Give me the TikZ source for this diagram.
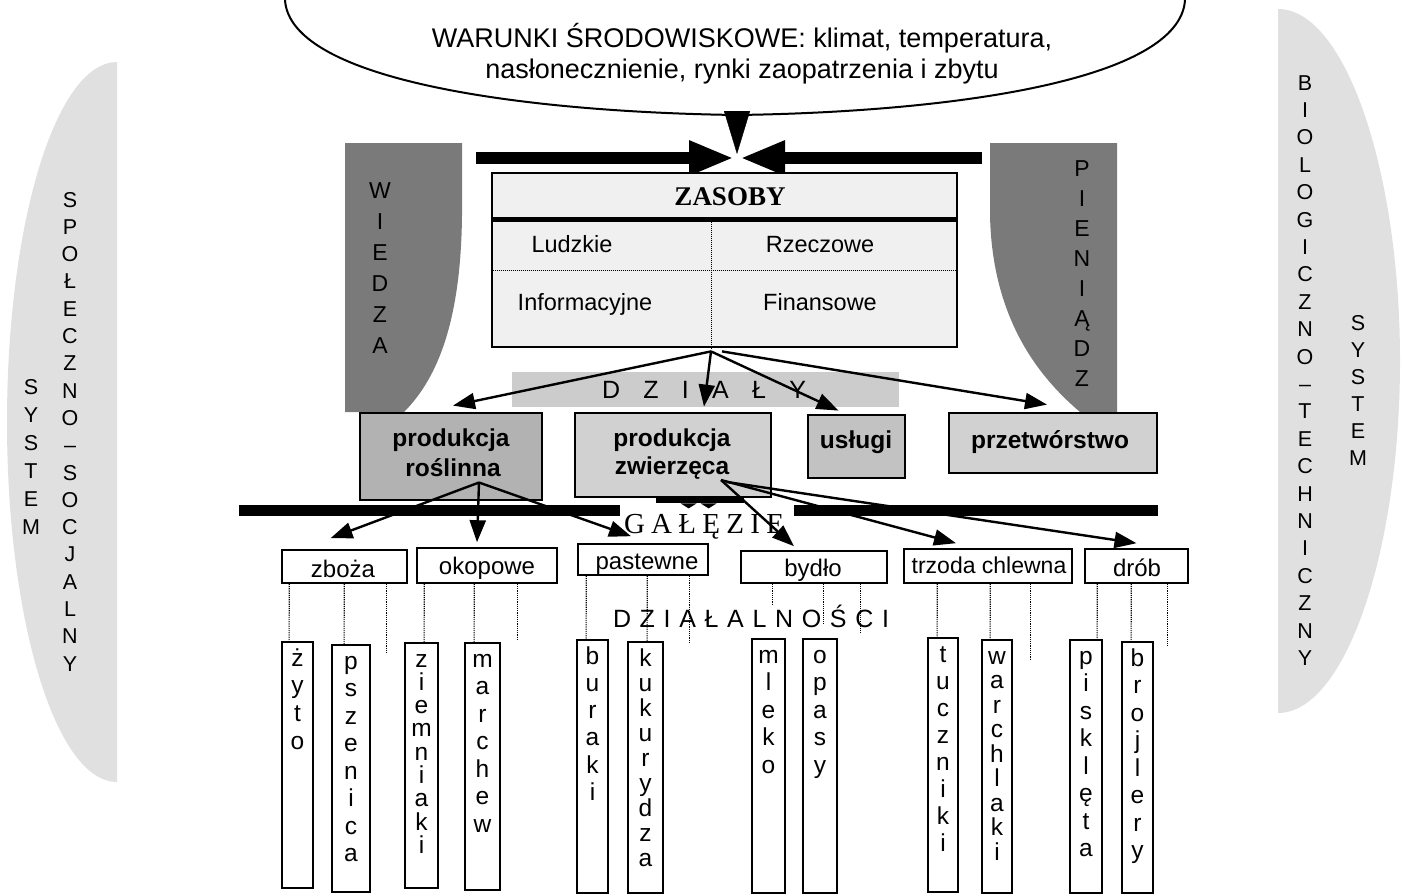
\documentclass[tikz,border=0pt]{standalone}
\usepackage{fontspec}
\setmainfont{Liberation Sans}
\newfontfamily\timesf{Liberation Serif}
\usetikzlibrary{arrows.meta,calc}
\newcommand\fsz[2]{\fontsize{#1}{#2}\selectfont}
\newcommand\vword[7]{%
  \node[vbox,minimum width={#3-#2},minimum height={#5-#4}] (#1) at ({(#2+#3)/2},{(#4+#5)/2}) {};
  \foreach \ch [count=\i from 0] in {#7}
    \node[vlet] (#1-\i) at ({(#2+#3)/2},{#4+24+#6*\i}) {\ch};
}
\begin{document}
\begin{tikzpicture}[x=1pt,y=-1pt,
  conn/.style={line width=2.4pt,-{Triangle[length=22pt,width=16pt]}},
  bigarr/.style={line width=12pt,-{Triangle[length=45pt,width=32pt]}},
  stip/.style={fill=black!12},
  curtain/.style={fill=black!52},
  rbox/.style={draw,line width=2.8pt,inner sep=0},
  gbox/.style={draw,line width=1.6pt,inner sep=0,fill=white},
  vbox/.style={draw,line width=1.8pt,inner sep=0,fill=white},
  vlet/.style={anchor=base,inner sep=0,font=\fsz{24.5}{24.5}},
  clet/.style={anchor=base,inner sep=0,font=\fsz{21.5}{21.5}},
  wlet/.style={anchor=base,inner sep=0,font=\fsz{23}{23}},
  btxt/.style={anchor=base,inner sep=0,font=\bfseries\fsz{24.5}{24.5}},
  ctxt/.style={anchor=base,inner sep=0,font=\fsz{23.5}{23.5}},
  gtxt/.style={anchor=base,inner sep=0,font=\fsz{24}{24}},
  dots/.style={densely dotted,line width=1.2pt},
]
\useasboundingbox (0,0) rectangle (1404,895);

% side stippled half-ellipses
\fill[stip] (117,62) .. controls (56,62) and (7,223) .. (7,422) .. controls (7,621) and (56,782) .. (117,782) -- cycle;
\fill[stip] (1278,9) .. controls (1345,9) and (1400,170) .. (1400,361) .. controls (1400,552) and (1345,713) .. (1278,713) -- cycle;
\foreach \ch [count=\i from 0] in {S,P,O,Ł,E,C,Z,N,O,–,S,O,C,J,A,L,N,Y}
  \node[clet] (spol-\i) at (70,{207+27.3*\i}) {\ch};
\foreach \ch [count=\i from 0] in {S,Y,S,T,E,M}
  \node[clet] (sysl-\i) at (31,{394+28*\i}) {\ch};
\foreach \ch [count=\i from 0] in {B,I,O,L,O,G,I,C,Z,N,O,–,T,E,C,H,N,I,C,Z,N,Y}
  \node[clet] (bio-\i) at (1305,{90+27.4*\i}) {\ch};
\foreach \ch [count=\i from 0] in {S,Y,S,T,E,M}
  \node[clet] (sysr-\i) at (1358,{330+27*\i}) {\ch};

% environment conditions
\draw[line width=2pt] (285,0) .. controls (290,80) and (520,112) .. (737,115) .. controls (954,112) and (1180,80) .. (1185,0);
\node[anchor=base,inner sep=0,font=\fsz{27}{27}] (war1) at (742,47.5) {WARUNKI ŚRODOWISKOWE: klimat, temperatura,};
\node[anchor=base,inner sep=0,font=\fsz{27}{27}] (war2) at (742,78) {nasłonecznienie, rynki zaopatrzenia i zbytu};
\coordinate (cbot) at (737,111);
\coordinate (meet) at (737,154);
\draw[line width=0.4pt,-{Triangle[length=43pt,width=26pt]}] (cbot) -- (meet);

% curtains
\fill[curtain] (345,143) -- (462,143) -- (462,215) .. controls (461,320) and (438,378) .. (404,412) -- (345,412) -- cycle;
\fill[curtain] (1117,143) -- (990,143) -- (990,215) .. controls (992,320) and (1040,378) .. (1080,412) -- (1117,412) -- cycle;
\foreach \ch [count=\i from 0] in {W,I,E,D,Z,A}
  \node[wlet] (wie-\i) at (380,{198+31*\i}) {\ch};
\foreach \ch [count=\i from 0] in {P,I,E,N,I,Ą,D,Z}
  \node[wlet] (pie-\i) at (1082,{176+30*\i}) {\ch};

% big arrows
\coordinate (lstart) at (476,158);
\coordinate (rstart) at (982,158);
\coordinate (meetL) at (734,158);
\coordinate (meetR) at (740,158);
\draw[bigarr] (lstart) -- (meetL);
\draw[bigarr] (rstart) -- (meetR);

% ZASOBY
\node[rbox,fill=black!6,minimum width=465,minimum height=174] (zasoby) at (724.5,260) {};
\draw[line width=5pt] ($(zasoby.north west)+(0,48)$) -- ($(zasoby.north east)+(0,48)$);
\draw[dots,line width=1pt] ($(zasoby.north west)+(0,99)$) -- ($(zasoby.north east)+(0,99)$);
\draw[dots,line width=1pt] ($(zasoby.north west)+(221,50)$) -- ($(zasoby.south west)+(221,0)$);
\node[anchor=base,inner sep=0,font=\timesf\bfseries\fsz{27}{27}] (zas-t) at (730,205) {ZASOBY};
\node[ctxt] (lud) at (572,252) {Ludzkie};
\node[ctxt] (rze) at (820,252) {Rzeczowe};
\node[ctxt] (inf) at (585,310) {Informacyjne};
\node[ctxt] (fin) at (820,310) {Finansowe};

% DZIAŁY band
\node[fill=black!20,minimum width=387,minimum height=35,inner sep=0] (dzialy) at (705.5,389.5) {};
\node[anchor=base,inner sep=0,font=\fsz{25}{25}] (dzialy-t) at (704,398) {\makebox[204pt][s]{D Z I A Ł Y}};

% departments
\node[rbox,fill=black!30,minimum width=182,minimum height=87] (pr) at (451,456.5) {};
\node[rbox,fill=black!18,minimum width=196,minimum height=84] (pz) at (673,455) {};
\node[rbox,fill=black!24,minimum width=97,minimum height=63] (usl) at (856.5,446.5) {};
\node[rbox,fill=black!18,minimum width=208,minimum height=60] (prz) at (1053,443) {};
\node[btxt] (pr-1) at (451,446) {produkcja};
\node[btxt] (pr-2) at (453,476) {roślinna};
\node[btxt] (pz-1) at (672,446) {produkcja};
\node[btxt] (pz-2) at (672,474) {zwierzęca};
\node[btxt] (usl-t) at (856,448) {usługi};
\node[btxt] (prz-t) at (1050,448) {przetwórstwo};

\coordinate (zsrc) at ($(zasoby.south)+(-13.5,3)$);
\coordinate (zsrc2) at ($(zasoby.south)+(-2.5,3)$);
\draw[conn] (zsrc) -- ($(pr.north)+(2,-6)$);
\draw[conn] (zsrc) -- ($(pz.north)+(31,-5)$);
\draw[conn] (zsrc) -- ($(usl.north)+(-18,-3)$);
\draw[conn] (zsrc2) -- ($(prz.north)+(-6,-7)$);

% branch bar
\coordinate (barL1) at (239,510);
\coordinate (barL2) at (620,510);
\coordinate (barR1) at (794,510);
\coordinate (barR2) at (1158,510);
\draw[line width=11pt] (barL1) -- (barL2);
\draw[line width=11pt] (barR1) -- (barR2);
\fill ($(pz.south west)+(82,0)$) rectangle ($(pz.south west)+(170,5)$);
\fill ($(pz.south west)+(107,5)$) -- ($(pz.south west)+(123,5)$) -- ($(pz.south west)+(115,10)$) -- cycle;
\fill ($(pz.south west)+(127,5)$) -- ($(pz.south west)+(143,5)$) -- ($(pz.south west)+(135,10)$) -- cycle;
\node[anchor=base,inner sep=0,font=\timesf\fsz{29}{29}] (gal) at (704,533) {\makebox[160pt][s]{G A Ł Ę Z I E}};

% branches
\node[gbox,minimum width=125,minimum height=33] (zboza) at (344.5,566.5) {};
\node[gbox,minimum width=140,minimum height=35] (okop) at (487,565.5) {};
\node[gbox,minimum width=130,minimum height=31] (past) at (643,559.5) {};
\node[gbox,minimum width=146,minimum height=32] (bydlo) at (814,567) {};
\node[gbox,minimum width=168,minimum height=34] (trzoda) at (988,566) {};
\node[gbox,minimum width=103,minimum height=34] (drob) at (1136.5,566) {};
\node[gtxt] (zboza-t) at (343,577) {zboża};
\node[gtxt] (okop-t) at (487,574) {okopowe};
\node[gtxt] (past-t) at (647,569) {pastewne};
\node[gtxt] (bydlo-t) at (813,576) {bydło};
\node[gtxt,font=\fsz{23}{23}] (trzoda-t) at (989,573) {trzoda chlewna};
\node[gtxt] (drob-t) at (1137,576) {drób};

\coordinate (prsrc) at ($(pr.center)+(28,26)$);
\coordinate (pzsrc) at ($(pz.center)+(48,25)$);
\draw[conn] (prsrc) -- ($(zboza.north)+(-14,-11)$);
\draw[conn] (prsrc) -- ($(okop.north)+(-10,-5)$);
\draw[conn] (prsrc) -- ($(past.north)+(-12,-7)$);
\draw[conn] (pzsrc) -- ($(bydlo.north)+(-20,-4)$);
\draw[conn] (pzsrc) -- ($(trzoda.north)+(-32,-5)$);
\draw[conn] ($(pzsrc)+(6,2)$) -- ($(drob.north)+(0,-5)$);

% activities
\vword{zyto}{282}{313}{642}{888}{27.7}{ż,y,t,o}
\vword{pszen}{332}{370}{645}{892}{27.5}{p,s,z,e,n,i,c,a}
\vword{ziem}{405}{438}{643}{888}{23.3}{z,i,e,m,n,i,a,k,i}
\vword{march}{465}{500}{643}{890}{27.5}{m,a,r,c,h,e,w}
\vword{burak}{577}{608}{640}{893}{27.3}{b,u,r,a,k,i}
\vword{kuku}{628}{663}{642}{893}{25}{k,u,k,u,r,y,d,z,a}
\vword{mleko}{752}{785}{639}{893}{27.5}{m,l,e,k,o}
\vword{opasy}{803}{837}{639}{893}{27.5}{o,p,a,s,y}
\vword{tucz}{928}{958}{638}{892}{27}{t,u,c,z,n,i,k,i}
\vword{warch}{982}{1012}{640}{893}{24.5}{w,a,r,c,h,l,a,k,i}
\vword{piskl}{1070}{1102}{640}{893}{27.5}{p,i,s,k,l,ę,t,a}
\vword{broj}{1122}{1153}{642}{893}{27.5}{b,r,o,j,l,e,r,y}

\draw[dots] ($(zboza.south west)+(8,0)$) -- ($(zyto.north west)+(8,0)$);
\draw[dots] ($(zboza.south west)+(63,0)$) -- ($(pszen.north west)+(13,0)$);
\coordinate (zbE) at ($(zboza.south west)+(105,69)$);
\draw[dots] ($(zboza.south west)+(105,0)$) -- (zbE);
\draw[dots] ($(okop.south west)+(8,0)$) -- ($(ziem.north west)+(20,0)$);
\draw[dots] ($(okop.south west)+(58,0)$) -- ($(march.north west)+(10,0)$);
\coordinate (okE) at ($(okop.south west)+(101,57)$);
\draw[dots] ($(okop.south west)+(101,0)$) -- (okE);
\draw[dots] ($(past.south west)+(9,0)$) -- ($(burak.north west)+(10,0)$);
\draw[dots] ($(past.south west)+(70,0)$) -- ($(kuku.north west)+(20,0)$);
\coordinate (paE) at ($(past.south west)+(112,67)$);
\draw[dots] ($(past.south west)+(112,0)$) -- (paE);
\coordinate (byE1) at ($(bydlo.south west)+(32,20)$);
\coordinate (byE2) at ($(bydlo.south west)+(83,40)$);
\coordinate (byE3) at ($(bydlo.south west)+(120,50)$);
\draw[dots] ($(bydlo.south west)+(32,0)$) -- (byE1);
\draw[dots] ($(bydlo.south west)+(83,0)$) -- (byE2);
\draw[dots] ($(bydlo.south west)+(120,0)$) -- (byE3);
\draw[dots] ($(trzoda.south west)+(34,0)$) -- ($(tucz.north west)+(10,0)$);
\draw[dots] ($(trzoda.south west)+(87,0)$) -- ($(warch.north west)+(9,0)$);
\coordinate (trE) at ($(trzoda.south west)+(127,75)$);
\draw[dots] ($(trzoda.south west)+(127,0)$) -- (trE);
\draw[dots] ($(drob.south west)+(13,0)$) -- ($(piskl.north west)+(28,0)$);
\draw[dots] ($(drob.south west)+(47,0)$) -- ($(broj.north west)+(10,0)$);
\coordinate (drE) at ($(drob.south west)+(83,62)$);
\draw[dots] ($(drob.south west)+(83,0)$) -- (drE);

\node[anchor=base,inner sep=0,font=\fsz{25}{25}] (dzl) at (751,627) {\makebox[276pt][s]{D Z I A Ł A L N O Ś C I}};
\end{tikzpicture}
\end{document}
